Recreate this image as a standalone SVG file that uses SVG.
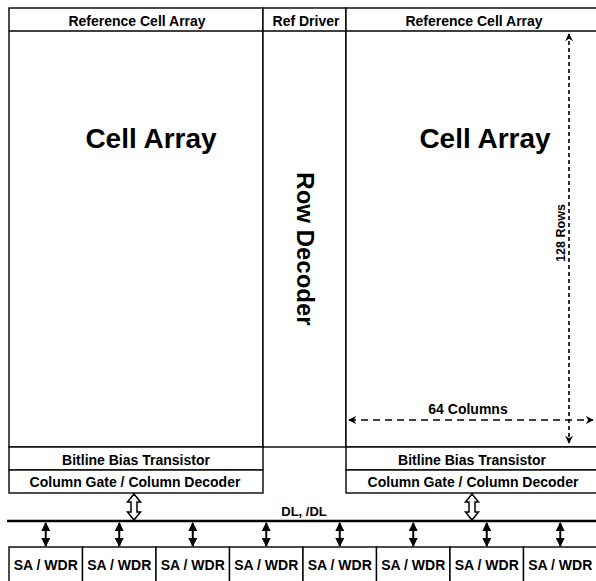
<svg xmlns="http://www.w3.org/2000/svg" width="596" height="581" viewBox="0 0 596 581">
<defs>
<style>
.ln{stroke:#000;stroke-width:1.6;fill:none}
.box{stroke:#000;stroke-width:1.4;fill:#fff}
.t{font-family:"Liberation Sans",Arial,sans-serif;font-weight:bold;font-size:14px;fill:#000;text-anchor:middle}
.big{font-size:28px}
.rd{font-size:24px}
.dim{stroke:#000;stroke-width:1.6;fill:none}
.hollow{stroke:#000;stroke-width:1.5;fill:#fff}
</style>
<marker id="ah" viewBox="0 0 10 10" refX="9" refY="5" markerWidth="8" markerHeight="8" markerUnits="userSpaceOnUse" orient="auto-start-reverse">
<path d="M0,0 L10,5 L0,10 L3,5 z" fill="#000"/>
</marker>
<marker id="sh" viewBox="0 0 10 10" refX="9" refY="5" markerWidth="9" markerHeight="9" markerUnits="userSpaceOnUse" orient="auto-start-reverse">
<path d="M0,0 L10,5 L0,10 z" fill="#000"/>
</marker>
</defs>
<rect x="0" y="0" width="596" height="581" fill="#fff"/>

<g id="left-array">
<rect class="box" x="9" y="8" width="254" height="439"/>
<line class="ln" x1="9" y1="31" x2="263" y2="31"/>
<text class="t" x="137" y="26">Reference Cell Array</text>
<text class="t big" x="151" y="148">Cell Array</text>
</g>

<g id="row-decoder">
<rect class="box" x="263" y="8" width="83" height="439"/>
<line class="ln" x1="263" y1="31" x2="346" y2="31"/>
<text class="t" x="306" y="26">Ref Driver</text>
<text class="t rd" transform="translate(297,249) rotate(90)" x="0" y="0">Row Decoder</text>
</g>

<g id="right-array">
<rect class="box" x="346" y="8" width="256" height="439"/>
<line class="ln" x1="346" y1="31" x2="602" y2="31"/>
<text class="t" x="474" y="26">Reference Cell Array</text>
<text class="t big" x="485" y="148">Cell Array</text>
<text class="t" style="font-size:12.5px" transform="translate(565,233) rotate(-90)" x="0" y="0">128 Rows</text>
<text class="t" x="468" y="414">64 Columns</text>
</g>

<g id="left-bitline">
<rect class="box" x="9" y="447" width="254" height="23"/>
<text class="t" x="136" y="465">Bitline Bias Transistor</text>
</g>
<g id="left-colgate">
<rect class="box" x="9" y="470" width="254" height="23"/>
<text class="t" x="135" y="487">Column Gate / Column Decoder</text>
</g>
<g id="right-bitline">
<rect class="box" x="346" y="447" width="256" height="23"/>
<text class="t" x="472" y="465">Bitline Bias Transistor</text>
</g>
<g id="right-colgate">
<rect class="box" x="346" y="470" width="256" height="23"/>
<text class="t" x="473" y="487">Column Gate / Column Decoder</text>
</g>

<g id="sa-row">
<rect class="box" x="9" y="547" width="73.5" height="40"/>
<rect class="box" x="82.5" y="547" width="73.5" height="40"/>
<rect class="box" x="156" y="547" width="73.5" height="40"/>
<rect class="box" x="229.5" y="547" width="73.5" height="40"/>
<rect class="box" x="303" y="547" width="73.5" height="40"/>
<rect class="box" x="376.5" y="547" width="73.5" height="40"/>
<rect class="box" x="450" y="547" width="73.5" height="40"/>
<rect class="box" x="523.5" y="547" width="73.5" height="40"/>
<text class="t" x="45.75" y="570">SA / WDR</text>
<text class="t" x="119.25" y="570">SA / WDR</text>
<text class="t" x="192.75" y="570">SA / WDR</text>
<text class="t" x="266.25" y="570">SA / WDR</text>
<text class="t" x="339.75" y="570">SA / WDR</text>
<text class="t" x="413.25" y="570">SA / WDR</text>
<text class="t" x="486.75" y="570">SA / WDR</text>
<text class="t" x="560.25" y="570">SA / WDR</text>
</g>

<g id="connectors">
<line x1="7" y1="521" x2="596" y2="521" stroke="#000" stroke-width="2.5"/>
<text class="t" x="304" y="516" style="font-size:13px">DL, /DL</text>
<path class="hollow" d="M134,494 L140.5,502 L137,502 L137,512 L140.5,512 L134,520 L127.5,512 L131,512 L131,502 L127.5,502 z"/>
<path class="hollow" d="M472,494 L478.5,502 L475,502 L475,512 L478.5,512 L472,520 L465.5,512 L469,512 L469,502 L465.5,502 z"/>
<g stroke="#000" stroke-width="2" marker-start="url(#sh)" marker-end="url(#sh)">
<line x1="45.75" y1="523" x2="45.75" y2="546"/>
<line x1="119.25" y1="523" x2="119.25" y2="546"/>
<line x1="192.75" y1="523" x2="192.75" y2="546"/>
<line x1="266.25" y1="523" x2="266.25" y2="546"/>
<line x1="339.75" y1="523" x2="339.75" y2="546"/>
<line x1="413.25" y1="523" x2="413.25" y2="546"/>
<line x1="486.75" y1="523" x2="486.75" y2="546"/>
<line x1="560.25" y1="523" x2="560.25" y2="546"/>
</g>
<line class="dim" x1="569" y1="34" x2="569" y2="443" stroke-dasharray="4,3" marker-start="url(#ah)" marker-end="url(#ah)"/>
<line class="dim" x1="349" y1="420" x2="593" y2="420" stroke-dasharray="7,5" marker-start="url(#ah)" marker-end="url(#ah)"/>
</g>
</svg>
